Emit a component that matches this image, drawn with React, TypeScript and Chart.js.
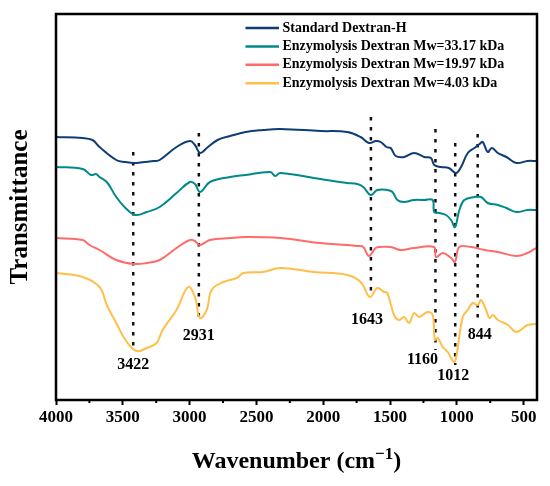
import { useEffect, useRef } from "react";
import { Chart, registerables } from "chart.js";

Chart.register(...registerables);

const FONT = "'Times New Roman', 'Liberation Serif', serif";

// FTIR spectra, wavenumber (cm-1) and transmittance (a.u., curves stacked with offsets)
const stdWn = [4000, 3800, 3727, 3674, 3549, 3480, 3417, 3340, 3266, 3224, 3098, 2998, 2960, 2922, 2871, 2791, 2697, 2581, 2450, 2321, 2021, 1820, 1720, 1658, 1605, 1570, 1526, 1495, 1457, 1395, 1320, 1244, 1194, 1169, 1119, 1060, 1006, 969, 918, 868, 830, 806, 769, 738, 693, 629, 555, 471, 405];
const stdT = [261, 260, 258, 251, 238, 236, 235, 236, 237, 238, 251, 257, 253, 245, 250, 258, 262, 266, 268, 269, 267, 266, 261, 255, 257, 256, 251, 250, 242, 241, 245, 241, 240, 233, 231, 230, 225, 231, 245, 250, 254, 256, 246, 250, 245, 241, 235, 237, 237];

const mw33Wn = [4000, 3800, 3737, 3700, 3674, 3620, 3549, 3480, 3405, 3320, 3224, 3098, 2998, 2960, 2922, 2848, 2697, 2581, 2396, 2359, 2321, 2021, 1820, 1745, 1700, 1645, 1595, 1520, 1482, 1445, 1395, 1320, 1244, 1181, 1169, 1131, 1081, 1043, 1014, 981, 944, 868, 819, 769, 693, 629, 555, 471, 405];
const mw33T = [231, 229, 223, 224, 221, 216, 201, 190, 183, 186, 191, 205, 216, 214, 206, 216, 221, 223, 226, 222, 225, 219, 215, 214, 211, 203, 208, 208, 206, 198, 196, 198, 198, 198, 186, 185, 183, 178, 171, 188, 198, 201, 201, 195, 193, 190, 186, 188, 188];

const mw20Wn = [4000, 3800, 3750, 3674, 3549, 3417, 3320, 3224, 3098, 2998, 2960, 2922, 2848, 2697, 2581, 2321, 2021, 1820, 1745, 1700, 1658, 1607, 1570, 1495, 1420, 1320, 1171, 1156, 1106, 1043, 1014, 981, 894, 794, 693, 555, 471, 405];
const mw20T = [160, 158, 153, 148, 138, 134, 135, 138, 150, 158, 157, 153, 158, 160, 161, 160, 155, 153, 152, 151, 142, 150, 151, 151, 148, 150, 151, 141, 145, 140, 136, 151, 151, 148, 146, 142, 145, 150];

const mw4Wn = [4000, 3800, 3674, 3620, 3549, 3480, 3399, 3320, 3248, 3202, 3098, 3011, 2960, 2923, 2872, 2835, 2748, 2647, 2597, 2450, 2321, 2071, 1820, 1720, 1650, 1595, 1545, 1520, 1470, 1432, 1395, 1357, 1320, 1282, 1219, 1181, 1164, 1143, 1106, 1068, 1023, 1006, 956, 918, 881, 843, 818, 781, 756, 730, 693, 617, 555, 471, 405];
const mw4T = [125, 121, 111, 93, 75, 58, 47, 50, 55, 68, 88, 111, 101, 80, 88, 108, 116, 120, 125, 126, 130, 126, 123, 116, 101, 110, 106, 105, 83, 78, 81, 75, 85, 81, 86, 83, 58, 60, 51, 46, 36, 40, 81, 88, 95, 93, 98, 88, 80, 83, 78, 73, 66, 73, 74];

const seriesLabels = [
  "Standard Dextran-H",
  "Enzymolysis Dextran Mw=33.17 kDa",
  "Enzymolysis Dextran Mw=19.97 kDa",
  "Enzymolysis Dextran Mw=4.03 kDa",
];
const seriesColors = ["#0d3d75", "#00898a", "#ff6b6b", "#ffbf48"];

// marked peaks and the extent of their dotted guide lines
const peaks = [3422, 2931, 1643, 1160, 1012, 844];
const peakTop = [246, 265, 281, 269, 255, 264];
const peakBottom = [48, 80, 101, 48, 33, 76];

const xTicks = [4000, 3500, 3000, 2500, 2000, 1500, 1000, 500];
const xMinorTicks = [3750, 3250, 2750, 2250, 1750, 1250, 750];

// label nudges in px relative to the foot of each guide line
const labelShift = [
  [0, 15],
  [0, 18],
  [-4, 23],
  [-13, 10],
  [-2, 11],
  [2, 13],
];

const zip = (xs: number[], ys: number[]) => xs.map((x, i) => ({ x, y: ys[i] }));

const decorPlugin = {
  id: "decor",
  afterDraw(chart: any) {
    const { ctx, chartArea: a, scales } = chart;
    const xs = scales.x;
    const ys = scales.y;
    ctx.save();

    // frame
    ctx.strokeStyle = "#000";
    ctx.lineWidth = 2.5;
    ctx.strokeRect(a.left, a.top, a.right - a.left, a.bottom - a.top);

    // minor ticks
    ctx.lineWidth = 2;
    xMinorTicks.forEach((v) => {
      const px = xs.getPixelForValue(v);
      ctx.beginPath();
      ctx.moveTo(px, a.bottom);
      ctx.lineTo(px, a.bottom + 3);
      ctx.stroke();
    });

    // peak labels
    ctx.fillStyle = "#000";
    ctx.font = `bold 16px ${FONT}`;
    ctx.textAlign = "center";
    ctx.textBaseline = "middle";
    peaks.forEach((p, i) => {
      const [dx, dy] = labelShift[i];
      ctx.fillText(String(p), xs.getPixelForValue(p) + dx, ys.getPixelForValue(peakBottom[i]) + dy);
    });

    // legend inside the plot
    ctx.font = `bold 14px ${FONT}`;
    ctx.textAlign = "left";
    seriesLabels.forEach((label, i) => {
      const ry = 28 + i * 18.4;
      ctx.strokeStyle = seriesColors[i];
      ctx.lineWidth = 2.5;
      ctx.beginPath();
      ctx.moveTo(245.5, ry);
      ctx.lineTo(279, ry);
      ctx.stroke();
      ctx.fillText(label, 282.5, ry);
    });

    // x title with superscript
    const cx = (a.left + a.right) / 2;
    const base = 468;
    const main = "Wavenumber (cm";
    const sup = "\u22121";
    const tail = ")";
    ctx.textBaseline = "alphabetic";
    ctx.font = `bold 24px ${FONT}`;
    const w1 = ctx.measureText(main).width;
    const w3 = ctx.measureText(tail).width;
    ctx.font = `bold 17px ${FONT}`;
    const w2 = ctx.measureText(sup).width;
    let x0 = cx - (w1 + w2 + w3) / 2;
    ctx.font = `bold 24px ${FONT}`;
    ctx.fillText(main, x0, base);
    x0 += w1;
    ctx.font = `bold 17px ${FONT}`;
    ctx.fillText(sup, x0, base - 9);
    x0 += w2;
    ctx.font = `bold 24px ${FONT}`;
    ctx.fillText(tail, x0, base);

    // y title
    ctx.translate(27, (a.top + a.bottom) / 2);
    ctx.rotate(-Math.PI / 2);
    ctx.textAlign = "center";
    ctx.font = `bold 25px ${FONT}`;
    ctx.fillText("Transmittance", 0, 0);

    ctx.restore();
  },
};

function FtirChart() {
  const chartRef = useRef<HTMLCanvasElement>(null);
  const chartInstance = useRef<Chart | null>(null);

  useEffect(() => {
    if (!chartRef.current) return;
    if (chartInstance.current) chartInstance.current.destroy();
    const ctx = chartRef.current.getContext("2d");
    if (!ctx) return;

    const spectra = [
      zip(stdWn, stdT),
      zip(mw33Wn, mw33T),
      zip(mw20Wn, mw20T),
      zip(mw4Wn, mw4T),
    ];

    const curveSets = spectra.map((data, i) => ({
      label: seriesLabels[i],
      data,
      borderColor: seriesColors[i],
      borderWidth: 2,
      pointRadius: 0,
      tension: 0.4,
      order: 0,
    }));

    const guideSets = peaks.map((p, i) => ({
      label: `peak ${p}`,
      data: [
        { x: p, y: peakTop[i] },
        { x: p, y: peakBottom[i] },
      ],
      borderColor: "#111",
      borderWidth: 2.5,
      borderDash: [3.5, 6.5],
      pointRadius: 0,
      tension: 0,
      order: 1,
    }));

    chartInstance.current = new Chart(ctx, {
      type: "line",
      data: { datasets: [...curveSets, ...guideSets] },
      options: {
        responsive: true,
        maintainAspectRatio: false,
        animation: false,
        events: [],
        layout: { padding: { left: 56, top: 14, right: 13, bottom: 0 } },
        scales: {
          x: {
            type: "linear",
            reverse: true,
            min: 400,
            max: 4000,
            afterBuildTicks: (s: any) => {
              s.ticks = xTicks.map((v) => ({ value: v }));
            },
            afterFit: (s: any) => {
              s.height = 86;
            },
            border: { display: false },
            grid: {
              drawOnChartArea: false,
              drawTicks: true,
              tickLength: 5,
              tickWidth: 2,
              tickColor: "#000",
            },
            ticks: {
              color: "#000",
              padding: 2,
              maxRotation: 0,
              autoSkip: false,
              callback: (v: any) => String(v),
              font: { family: FONT, size: 17, weight: "bold" },
            },
          },
          y: {
            display: false,
            min: -2,
            max: 384,
          },
        },
        plugins: {
          legend: { display: false },
          tooltip: { enabled: false },
        },
      },
      plugins: [decorPlugin],
    });

    return () => {
      if (chartInstance.current) {
        chartInstance.current.destroy();
        chartInstance.current = null;
      }
    };
  }, []);

  return <canvas ref={chartRef} />;
}

export default function App() {
  return (
    <div style={{ position: "fixed", left: 0, top: 0, width: 550, height: 486, background: "#fff" }}>
      <FtirChart />
    </div>
  );
}
